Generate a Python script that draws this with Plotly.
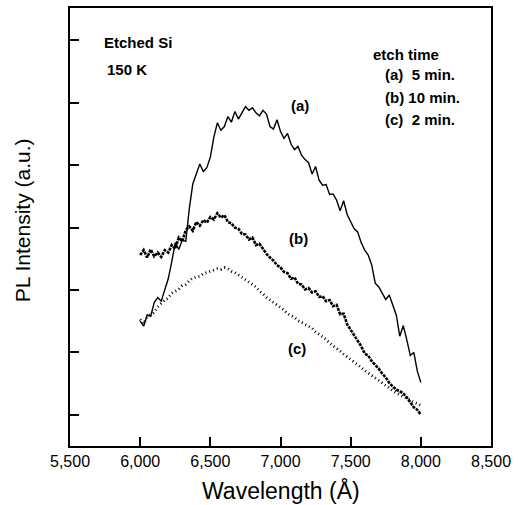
import plotly.graph_objects as go

# Wavelength grid (Angstrom), 25 A steps from 6000 to 8000
wavelength = [6000 + 25 * i for i in range(81)]

# (a) 5 min. etch
pl_a = [20.0, 19.2, 21.0, 20.8, 23.0, 23.8, 23.2, 25.0, 26.8, 29.5,
        32.6, 31.5, 33.0, 32.8, 38.0, 42.0, 43.5, 45.2, 44.0, 44.6,
        46.3, 49.5, 51.8, 50.6, 51.2, 52.8, 51.9, 53.6, 52.4, 53.5,
        54.4, 53.8, 54.2, 53.4, 52.9, 53.8, 53.2, 51.2, 50.8, 52.3,
        50.4, 49.3, 50.1, 48.4, 47.5, 48.0, 46.6, 45.9, 45.4, 43.6,
        44.8, 42.6, 41.8, 41.9, 40.3, 40.4, 39.4, 37.7, 39.3, 37.1,
        35.8, 34.8, 34.3, 32.6, 31.4, 30.6, 29.0, 26.1, 25.5, 24.4,
        23.5, 24.2, 22.6, 21.0, 17.6, 19.3, 17.0, 14.5, 15.0, 12.0,
        10.2]

# (b) 10 min. etch
pl_b = [30.6, 31.4, 30.2, 31.5, 30.4, 31.0, 30.3, 31.4, 31.0, 32.2,
        31.6, 33.4, 32.8, 34.6, 35.2, 34.5, 35.9, 35.3, 36.2, 35.8,
        36.7, 36.3, 37.3, 36.6, 37.0, 35.9, 35.7, 35.0, 34.8, 34.0,
        33.9, 33.1, 33.4, 32.2, 32.4, 31.5, 30.8, 30.2, 29.7, 29.0,
        28.6, 27.9, 27.7, 26.8, 27.0, 26.0, 25.9, 25.1, 25.3, 24.6,
        24.8, 23.9, 24.0, 23.2, 23.4, 22.4, 22.6, 21.1, 21.2, 19.5,
        18.6, 17.8, 16.7, 16.0, 14.8, 14.5, 13.6, 13.0, 12.4, 11.6,
        11.0, 10.1, 9.6, 9.0, 8.8, 8.4, 7.8, 7.0, 6.2, 5.8,
        5.0]

# (c) 2 min. etch
pl_c = [20.3, 19.6, 20.6, 21.0, 21.4, 22.3, 22.8, 23.4, 23.7, 24.5,
        24.8, 25.1, 25.7, 25.9, 26.5, 26.9, 27.1, 27.2, 27.6, 27.8,
        28.0, 28.1, 28.4, 28.3, 28.6, 28.4, 28.0, 27.8, 27.4, 27.0,
        26.6, 26.2, 25.9, 25.5, 24.8, 24.4, 23.8, 23.4, 23.0, 22.5,
        22.1, 21.8, 21.2, 20.9, 20.6, 20.1, 19.8, 19.5, 19.2, 18.9,
        18.3, 17.9, 17.4, 17.1, 16.5, 16.1, 15.6, 15.2, 14.7, 14.3,
        13.9, 13.5, 13.0, 12.6, 12.1, 11.7, 11.3, 10.9, 10.4, 10.0,
        9.7, 9.2, 8.8, 8.5, 8.2, 7.9, 7.6, 7.2, 7.0, 6.8,
        6.5]

x_ticks = [5500, 6000, 6500, 7000, 7500, 8000, 8500]
x_tick_labels = ["5,500", "6,000", "6,500", "7,000", "7,500", "8,000", "8,500"]
y_ticks = [5, 15, 25, 35, 45, 55, 65]

curve_labels = ["(a)", "(b)", "(c)"]
legend_lines = ["etch time", "(a)\u00a0\u00a05 min.", "(b) 10 min.", "(c)\u00a0\u00a02 min."]

fig = go.Figure()
fig.add_trace(go.Scatter(x=wavelength, y=pl_c, mode="lines",
                         line=dict(color="black", width=2.8, dash="1px,3px"),
                         showlegend=False))
fig.add_trace(go.Scatter(x=wavelength, y=pl_b, mode="lines",
                         line=dict(color="black", width=2.6, dash="3px,1px"),
                         showlegend=False))
fig.add_trace(go.Scatter(x=wavelength, y=pl_a, mode="lines",
                         line=dict(color="black", width=1.4),
                         showlegend=False))

bold = dict(family="Liberation Sans, Arial, sans-serif", size=15, color="black")

ann = []
# curve labels
for lab, xx, yy in zip(curve_labels, [7136, 7129, 7121], [54.5, 33.2, 15.6]):
    ann.append(dict(x=xx, y=yy, xref="x", yref="y", text="<b>" + lab + "</b>",
                    showarrow=False, font=bold))
# sample info
ann.append(dict(x=5729, y=64.6, xref="x", yref="y", text="<b>Etched Si</b>",
                showarrow=False, xanchor="left", font=bold))
ann.append(dict(x=5750, y=60.4, xref="x", yref="y", text="<b>150 K</b>",
                showarrow=False, xanchor="left", font=bold))
# legend text
for txt, xx, yy in zip(legend_lines, [7643, 7729, 7729, 7729], [62.8, 59.5, 55.8, 52.3]):
    ann.append(dict(x=xx, y=yy, xref="x", yref="y", text="<b>" + txt + "</b>",
                    showarrow=False, xanchor="left", font=bold))
# axis titles
ann.append(dict(x=0.5, y=-0.102, xref="paper", yref="paper", text="Wavelength (Å)",
                showarrow=False, xanchor="center", yanchor="middle",
                font=dict(family="Liberation Sans, Arial, sans-serif", size=23, color="black")))
ann.append(dict(x=-0.112, y=0.515, xref="paper", yref="paper", text="PL Intensity (a.u.)",
                showarrow=False, xanchor="center", yanchor="middle", textangle=-90,
                font=dict(family="Liberation Sans, Arial, sans-serif", size=21, color="black")))

fig.update_layout(
    width=520, height=505,
    margin=dict(l=70, r=29, t=6, b=59),
    paper_bgcolor="white", plot_bgcolor="white",
    annotations=ann,
    showlegend=False,
)
fig.update_xaxes(range=[5500, 8500], tickvals=x_ticks, ticktext=x_tick_labels,
                 ticks="inside", ticklen=9, tickwidth=1.5, tickcolor="black",
                 showline=True, linewidth=2, linecolor="black", mirror=True,
                 showgrid=False, zeroline=False,
                 tickfont=dict(family="Liberation Sans, Arial, sans-serif", size=16, color="black"))
fig.update_yaxes(range=[0, 70.2], tickvals=y_ticks, showticklabels=False,
                 ticks="inside", ticklen=9, tickwidth=1.5, tickcolor="black",
                 showline=True, linewidth=2, linecolor="black", mirror=True,
                 showgrid=False, zeroline=False)

fig.write_html("out.html", config={"displayModeBar": False},
               post_script="document.body.style.margin='0';document.body.style.overflow='hidden';")
